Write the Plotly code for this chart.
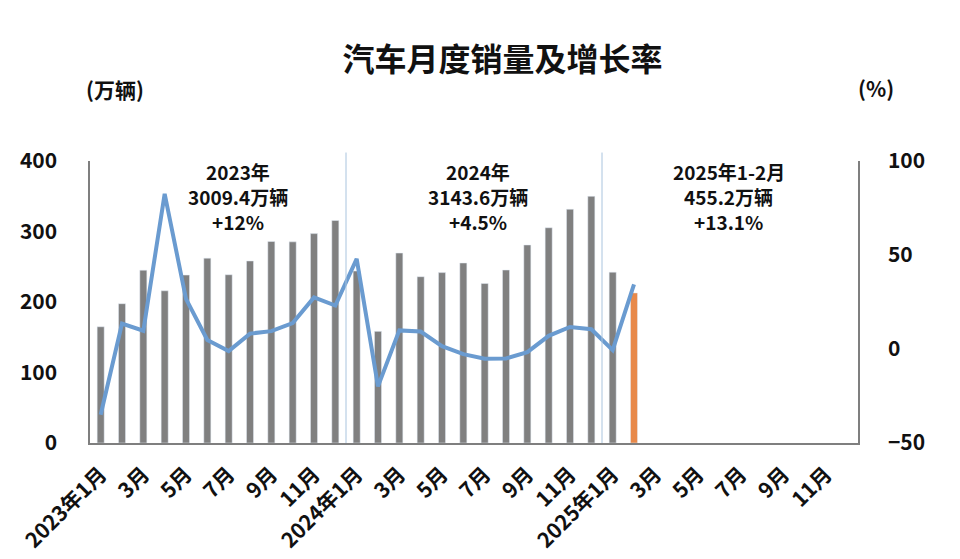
import plotly.graph_objects as go

months = []
for y in [2023, 2024, 2025]:
    for m in range(1, 13):
        months.append(f"{y}-{m:02d}")

tick_labels = []
for y in [2023, 2024, 2025]:
    for m in range(1, 13):
        if m == 1:
            tick_labels.append(f"{y}年1月")
        elif m % 2 == 1:
            tick_labels.append(f"{m}月")
        else:
            tick_labels.append("")

sales = [164.9, 197.6, 245.1, 215.9, 238.2, 262.2, 238.7, 258.2, 285.8, 285.3, 297.0, 315.6,
         243.9, 158.4, 269.4, 235.9, 241.7, 255.3, 226.2, 245.3, 280.9, 305.3, 331.6, 349.9,
         242.3, 212.9]
growth = [-35.0, 13.5, 9.7, 82.5, 26.7, 4.8, -1.1, 8.2, 9.5, 13.8, 27.4, 23.1,
          47.9, -19.9, 9.9, 9.3, 1.5, -2.7, -5.2, -5.0, -1.7, 7.0, 11.7, 10.5,
          -0.6, 34.4]

summary_lines = [["2023年", "3009.4万辆", "+12%"],
                 ["2024年", "3143.6万辆", "+4.5%"],
                 ["2025年1-2月", "455.2万辆", "+13.1%"]]
summary_x = [0.193, 0.505, 0.832]
line_y = [0.963, 0.874, 0.785]

FONT = "Noto Sans CJK SC"
GRAY = "#808080"
ORANGE = "#E8894A"
BLUE = "#6A9BD0"


def bf(size):
    return dict(family=FONT, size=size, color="#111", weight="bold")


bar_colors = [GRAY] * (len(sales) - 1) + [ORANGE]

fig = go.Figure()
fig.add_trace(go.Bar(x=months[:len(sales)], y=sales, marker_color=bar_colors,
                     width=0.33, yaxis="y", showlegend=False))
fig.add_trace(go.Scatter(x=months[:len(growth)], y=growth, mode="lines",
                         line=dict(color=BLUE, width=4), yaxis="y2", showlegend=False))

# year separators
for idx in [12, 24]:
    fig.add_shape(type="line", xref="x", yref="paper", x0=idx - 0.5, x1=idx - 0.5,
                  y0=0, y1=1.03, line=dict(color="#A9C4DE", width=1))

for lines, xp in zip(summary_lines, summary_x):
    for t, yp in zip(lines, line_y):
        fig.add_annotation(text=t, xref="paper", yref="paper", x=xp, y=yp,
                           showarrow=False, font=bf(19),
                           xanchor="center", yanchor="middle")

fig.add_annotation(text="(万辆)", xref="paper", yref="paper", x=-0.0075, y=1.255,
                   xanchor="left", yanchor="middle", showarrow=False, font=bf(21))
fig.add_annotation(text="(%)", xref="paper", yref="paper", x=0.9975, y=1.259,
                   xanchor="left", yanchor="middle", showarrow=False, font=bf(21))

fig.update_layout(
    width=960, height=559,
    margin=dict(l=82, r=110, t=153, b=124),
    paper_bgcolor="white", plot_bgcolor="white",
    title=dict(text="汽车月度销量及增长率", x=0.515, xanchor="center",
               y=0.907, yanchor="middle", font=bf(32)),
    font=dict(family=FONT, color="#111"),
    xaxis=dict(type="category", categoryorder="array", categoryarray=months,
               range=[-0.5, len(months) - 0.5],
               tickmode="array", tickvals=months, ticktext=tick_labels,
               tickangle=-45, showgrid=False, showline=True, linecolor="#7f7f7f",
               linewidth=1.5, ticks="", ticklabelstandoff=9, automargin=False,
               tickfont=bf(21)),
    yaxis=dict(range=[0, 400], tickvals=[0, 100, 200, 300, 400], showgrid=False,
               showline=True, linecolor="#7f7f7f", linewidth=1.5, ticks="",
               ticklabelstandoff=27, zeroline=False, automargin=False,
               tickfont=bf(21)),
    yaxis2=dict(range=[-50, 100], tickvals=[-50, 0, 50, 100], overlaying="y", side="right",
                showgrid=False, showline=True, linecolor="#7f7f7f", linewidth=1.5, ticks="",
                ticklabelstandoff=24, zeroline=False, automargin=False,
                tickfont=bf(21)),
)

fig.write_html("out.html")
